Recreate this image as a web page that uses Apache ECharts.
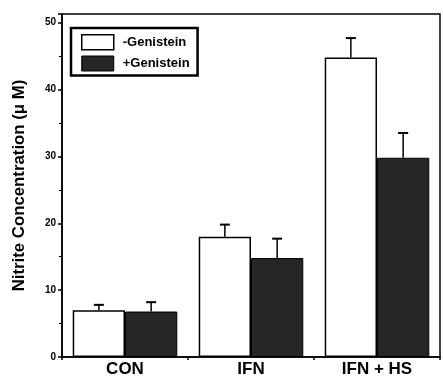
<!DOCTYPE html>
<html><head><meta charset="utf-8">
<script src="https://cdn.jsdelivr.net/npm/echarts@6/dist/echarts.min.js"></script>
<style>html,body{margin:0;padding:0;background:#fff}#c{width:443px;height:379px}</style>
</head><body><div id="c"></div>
<script>
const categories = ['CON', 'IFN', 'IFN + HS'];
const minusGenistein = [7.0, 18.0, 44.8];
const minusGenisteinErr = [0.8, 1.8, 2.9];
const plusGenistein = [6.8, 14.8, 29.8];
const plusGenisteinErr = [1.4, 2.9, 3.7];
const yTicks = [0, 10, 20, 30, 40, 50];

const chart = echarts.init(document.getElementById('c'));
const catGap = 0.17;
function errSeries(vals, errs, side) {
  return {
    type: 'custom',
    z: 10,
    data: vals.map((v, i) => [i, v, v + errs[i]]),
    renderItem: function (params, api) {
      const band = api.size([1, 0])[0];
      const bw = band * (1 - catGap) / 2;
      const base = api.coord([api.value(0), api.value(1)]);
      const top = api.coord([api.value(0), api.value(2)]);
      const x = base[0] + side * bw / 2;
      const cap = 5;
      return {
        type: 'group',
        children: [
          { type: 'line', shape: { x1: x, y1: base[1], x2: x, y2: top[1] }, style: { stroke: '#000', lineWidth: 1.5 } },
          { type: 'line', shape: { x1: x - cap, y1: top[1], x2: x + cap, y2: top[1] }, style: { stroke: '#000', lineWidth: 2 } }
        ]
      };
    }
  };
}
chart.setOption({
  animation: false,
  grid: { left: 62, right: 3, top: 14, bottom: 22, containLabel: false, outerBoundsMode: 'none',
    show: true, borderColor: '#000', borderWidth: 1.5 },
  legend: {
    left: 71, top: 28, orient: 'vertical', itemGap: 5, itemWidth: 32, itemHeight: 15, icon: 'rect',
    padding: [6, 8, 4, 10], borderColor: '#000', borderWidth: 2.5,
    textStyle: { fontFamily: 'Liberation Sans', fontWeight: 'bold', fontSize: 13, color: '#000', padding: [0, 0, 0, 4] },
    data: [
      { name: '-Genistein', itemStyle: { color: '#fff', borderColor: '#000', borderWidth: 1.5 } },
      { name: '+Genistein', itemStyle: { color: '#262626', borderColor: '#000', borderWidth: 1 } }
    ]
  },
  xAxis: {
    type: 'category', data: categories,
    axisLine: { lineStyle: { color: '#000', width: 1.5 } },
    axisTick: { show: true, inside: false, length: 3, lineStyle: { color: '#000', width: 1.5 } },
    axisLabel: { color: '#000', fontFamily: 'Liberation Sans', fontWeight: 'bold', fontSize: 17, margin: 4 }
  },
  yAxis: {
    type: 'value', min: 0, max: 51.3, interval: 10,
    name: 'Nitrite Concentration (\u03bc M)', nameLocation: 'middle', nameGap: 34,
    nameTextStyle: { color: '#000', fontFamily: 'Liberation Sans', fontWeight: 'bold', fontSize: 16.8 },
    axisLine: { show: true, lineStyle: { color: '#000', width: 1.5 } },
    axisTick: { show: true, length: 4, lineStyle: { color: '#000', width: 1.5 } },
    minorTick: { show: true, splitNumber: 2, length: 3, lineStyle: { color: '#000' } },
    splitLine: { show: false },
    axisLabel: { color: '#000', fontFamily: 'Liberation Sans', fontWeight: 'bold', fontSize: 10, margin: 6,
      showMaxLabel: false, formatter: v => yTicks.includes(v) ? String(v) : '' }
  },
  series: [
    { name: '-Genistein', type: 'bar', data: minusGenistein, barGap: '0%', barCategoryGap: '17%',
      itemStyle: { color: '#fff', borderColor: '#000', borderWidth: 1.5 } },
    { name: '+Genistein', type: 'bar', data: plusGenistein, barGap: '0%', barCategoryGap: '17%',
      itemStyle: { color: '#262626', borderColor: '#000', borderWidth: 1 } },
    errSeries(minusGenistein, minusGenisteinErr, -1),
    errSeries(plusGenistein, plusGenisteinErr, 1)
  ]
});
</script></body></html>
